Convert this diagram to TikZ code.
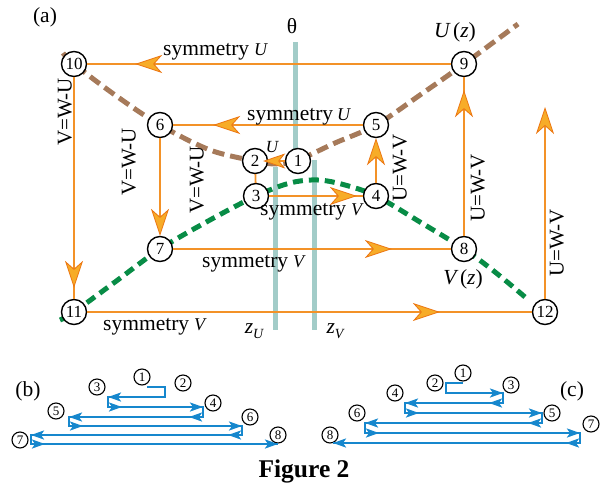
\documentclass[tikz,border=0pt]{standalone}
\usepackage{fontspec}
\setmainfont{Liberation Serif}
\usetikzlibrary{arrows.meta,decorations.markings}
\definecolor{orng}{RGB}{243,146,40}
\definecolor{arrfill}{RGB}{247,172,40}
\definecolor{arredge}{RGB}{236,118,18}
\definecolor{tealline}{RGB}{162,204,200}
\definecolor{brwn}{RGB}{166,122,90}
\definecolor{grn}{RGB}{8,140,70}
\definecolor{blu}{RGB}{22,135,205}
\newcommand\fsz[1]{\fontsize{#1}{#1}\selectfont}
\tikzset{
  num/.style={circle, draw=black, line width=1.4pt, fill=white, minimum size=25pt, inner sep=0pt, font=\fsz{17}},
  snum/.style={circle, draw=black, line width=1.1pt, fill=white, minimum size=16pt, inner sep=0pt, font=\fsz{13}},
  oline/.style={draw=orng, line width=1.8pt},
  bigtip/.tip={Stealth[length=27pt,width=18pt,inset=8pt,color=arredge,fill=arrfill,line width=0.8pt]},
  medtip/.tip={Stealth[length=22pt,width=15pt,inset=6pt,color=arredge,fill=arrfill,line width=0.8pt]},
  smalltip/.tip={Stealth[length=13pt,width=9pt,inset=3pt,color=blu,fill=blu]},
  midarr/.style={postaction={decorate}, decoration={markings, mark=at position #1 with {\arrow{bigtip}}}},
  startarr/.style={postaction={decorate}, decoration={markings, mark=at position 14pt with {\arrow{smalltip}}}},
  lab/.style={font=\fsz{21.5}, inner sep=0pt},
  rlab/.style={font=\fsz{21}, inner sep=0pt, rotate=90},
  tline/.style={draw=tealline, line width=5pt},
  bline/.style={draw=blu, line width=2.2pt},
  ucurve/.style={draw=brwn, line width=5pt, dash pattern=on 12pt off 6pt},
  vcurve/.style={draw=grn, line width=5pt, dash pattern=on 10pt off 6pt},
}
\begin{document}
\begin{tikzpicture}[x=1pt,y=-1pt]
\useasboundingbox (0,0) rectangle (605,485);
% teal reference lines
\draw[tline] (295,42) -- (295,161);
\draw[tline] (275,167) -- (275,330);
\draw[tline] (314,160) -- (314,330);
% curves
\draw[ucurve] plot[smooth, tension=0.55] coordinates {(63,53) (74,64) (115,95) (160,125) (210,150) (255,161) (277,164) (298,160) (335,143) (376,125) (420,95) (464,64) (518,24)};
\draw[vcurve] plot[smooth, tension=0.55] coordinates {(60,320) (74,312) (115,282) (160,249) (210,220) (256,196) (290,183) (318,180) (345,185) (376,196) (420,222) (464,249) (495,272) (525,297)};
% nodes
\node[num] (n1) at (298,161) {1};
\node[num] (n2) at (255,161) {2};
\node[num] (n3) at (256,196) {3};
\node[num] (n4) at (376,196) {4};
\node[num] (n5) at (376,125) {5};
\node[num] (n6) at (160,125) {6};
\node[num] (n7) at (160,249) {7};
\node[num] (n8) at (464,249) {8};
\node[num] (n9) at (464,64) {9};
\node[num] (n10) at (74,64) {10};
\node[num] (n11) at (74,312) {11};
\node[num] (n12) at (545,312) {12};
\coordinate (top12) at (545,107);
% orange connectors
\draw[oline, midarr=-48pt] (n9) -- (n10);
\draw[oline, midarr=-11pt] (n10) -- (n11);
\draw[oline, midarr=-92pt] (n11) -- (n12);
\draw[oline, -{bigtip}] (n12) -- (top12);
\draw[oline, midarr=-59pt] (n7) -- (n8);
\draw[oline, midarr=-13pt] (n8) -- (n9);
\draw[oline, -{bigtip}] (n6) -- (n7);
\draw[oline, midarr=-40pt] (n5) -- (n6);
\draw[oline, -{bigtip}] (n4) -- (n5);
\draw[oline, midarr=-6pt] (n3) -- (n4);
\draw[oline] (n2) -- (n3);
\draw[oline, -{medtip}, shorten >=-5pt] (n1) -- (n2);
% labels
\node[lab, anchor=base west] (sU1) at (163,55) {symmetry\hspace{5pt}{\fsz{18}\itshape U}};
\node[lab, anchor=base west] (sU2) at (247,120) {symmetry\hspace{4pt}{\fsz{18}\itshape U}};
\node[lab, anchor=base west] (sV1) at (260,215) {symmetry\hspace{5pt}{\fsz{18}\itshape V}};
\node[lab, anchor=base west] (sV2) at (202,267) {symmetry\hspace{5pt}{\fsz{18}\itshape V}};
\node[lab, anchor=base west] (sV3) at (103,330) {symmetry\hspace{5pt}{\fsz{18}\itshape V}};
\node[rlab] (r1) at (65,112) {V=W-U};
\node[rlab] (r2) at (129,162) {V=W-U};
\node[rlab] (r3) at (197,180) {V=W-U};
\node[rlab] (r4) at (400,168) {U=W-V};
\node[rlab] (r5) at (478,188) {U=W-V};
\node[rlab] (r6) at (557,243) {U=W-V};
\node[font=\fsz{17}\itshape, inner sep=0pt] (lu) at (272,147) {U};
\node[lab] (Uz) at (455,32) {{\itshape U}\,({\itshape z})};
\node[lab] (Vz) at (463,279) {{\itshape V}\,({\itshape z})};
\node[lab] (th) at (292,26) {θ};
\node[lab] (zu) at (254,331) {{\itshape z}\raisebox{-5pt}{\fsz{14}\itshape U}};
\node[lab] (zv) at (335,331) {{\itshape z}\raisebox{-5pt}{\fsz{14}\itshape V}};
\node[lab] (la) at (45,17) {(a)};
\node[lab] (lb) at (28,391) {(b)};
\node[lab] (lc) at (572,391) {(c)};
\node[font=\fsz{25.5}\bfseries, inner sep=0pt, anchor=base] (fig) at (304,477) {Figure 2};
% (b)
\node[snum] (b1) at (142,377) {1};
\node[snum] (b2) at (183,383) {2};
\node[snum] (b3) at (97,387) {3};
\node[snum] (b4) at (213,403) {4};
\node[snum] (b5) at (56,411) {5};
\node[snum] (b6) at (250,417) {6};
\node[snum] (b7) at (20,440) {7};
\node[snum] (b8) at (278,435) {8};
\draw[bline] (147,387) -- (165,387) -- (165,397) -- (108,397) -- (108,407) -- (203,407) -- (203,417) -- (69,417) -- (69,426) -- (242,426) -- (242,435) -- (31,435) -- (31,444) -- (278,444);
\draw[bline, -{smalltip}] (165,397) -- (108,397);
\draw[bline, startarr, -{smalltip}] (108,407) -- (203,407);
\draw[bline, startarr, -{smalltip}] (203,417) -- (69,417);
\draw[bline, startarr, -{smalltip}] (69,426) -- (242,426);
\draw[bline, startarr, -{smalltip}] (242,435) -- (31,435);
\draw[bline, startarr, -{smalltip}] (31,444) -- (278,444);
% (c)
\node[snum] (c1) at (463,373) {1};
\node[snum] (c2) at (435,383) {2};
\node[snum] (c3) at (511,385) {3};
\node[snum] (c4) at (395,393) {4};
\node[snum] (c5) at (552,413) {5};
\node[snum] (c6) at (357,413) {6};
\node[snum] (c7) at (591,424) {7};
\node[snum] (c8) at (330,435) {8};
\draw[bline] (463,383) -- (446,383) -- (446,393) -- (503,393) -- (503,403) -- (405,403) -- (405,413) -- (542,413) -- (542,423) -- (365,423) -- (365,433) -- (580,433) -- (580,443) -- (333,443);
\draw[bline, -{smalltip}] (446,393) -- (503,393);
\draw[bline, startarr, -{smalltip}] (503,403) -- (405,403);
\draw[bline, startarr, -{smalltip}] (405,413) -- (542,413);
\draw[bline, startarr, -{smalltip}] (542,423) -- (365,423);
\draw[bline, startarr, -{smalltip}] (365,433) -- (580,433);
\draw[bline, startarr, -{smalltip}] (580,443) -- (333,443);
\end{tikzpicture}
\end{document}
